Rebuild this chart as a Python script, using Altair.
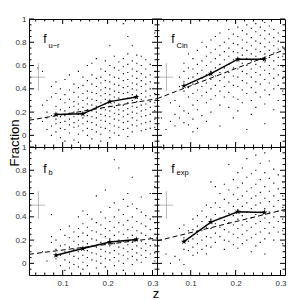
import altair as alt
import pandas as pd

FONT = "Liberation Sans"
W, H = 128, 128
X_DOMAIN = [0.025, 0.31]
Y_DOMAIN = [-0.1, 1.0]

X_MAJOR = [0.1, 0.2, 0.3]
X_MINOR = [0.04, 0.06, 0.08, 0.12, 0.14, 0.16, 0.18, 0.22, 0.24, 0.26, 0.28]
Y_MAJOR = [0, 0.2, 0.4, 0.6, 0.8, 1.0]
Y_MINOR = [-0.05, 0.05, 0.1, 0.15, 0.25, 0.3, 0.35, 0.45, 0.5, 0.55, 0.65, 0.7, 0.75, 0.85, 0.9, 0.95]

BIN_Z = [0.085, 0.145, 0.205, 0.264]
UR_BIN = [0.18, 0.185, 0.29, 0.33]
CIN_BIN = [0.425, 0.53, 0.655, 0.655]
B_BIN = [0.07, 0.127, 0.184, 0.206]
EXP_BIN = [0.187, 0.355, 0.443, 0.437]

FIT_Z = [0.025, 0.31]
UR_FIT = [0.13, 0.315]
CIN_FIT = [0.315, 0.737]
B_FIT = [0.078, 0.218]
EXP_FIT = [0.193, 0.463]

CROSS_Z = [0.031, 0.046, 0.061]
CROSS_F = [0.38, 0.5, 0.62]

UR_PTS = {
    0.045: [0.58],
    0.055: [0.55, 0.26, 0.12],
    0.065: [0.20, 0.15, 0.05, 0.30],
    0.075: [0.42, 0.33, 0.17, 0.08, 0.0],
    0.085: [0.46, 0.36, 0.25, 0.14, 0.10, 0.03],
    0.095: [0.40, 0.31, 0.22, 0.16, 0.11, 0.06, -0.02],
    0.105: [0.48, 0.35, 0.28, 0.21, 0.17, 0.12, 0.05, -0.05],
    0.115: [0.52, 0.39, 0.31, 0.24, 0.19, 0.14, 0.09, 0.02],
    0.125: [0.44, 0.37, 0.29, 0.25, 0.20, 0.16, 0.11, 0.07, -0.04],
    0.135: [0.55, 0.41, 0.33, 0.27, 0.22, 0.18, 0.13, 0.08, 0.01, -0.06],
    0.145: [0.50, 0.43, 0.36, 0.30, 0.24, 0.19, 0.15, 0.10, 0.04],
    0.155: [0.60, 0.47, 0.38, 0.32, 0.27, 0.22, 0.17, 0.12, 0.06, 0.0],
    0.165: [0.62, 0.52, 0.44, 0.37, 0.31, 0.26, 0.21, 0.16, 0.11, 0.05, -0.03],
    0.175: [0.66, 0.49, 0.42, 0.36, 0.30, 0.25, 0.20, 0.15, 0.09, 0.03],
    0.185: [0.57, 0.50, 0.45, 0.39, 0.34, 0.28, 0.23, 0.18, 0.13, 0.07, 0.01, -0.05],
    0.195: [0.64, 0.55, 0.47, 0.41, 0.36, 0.31, 0.27, 0.22, 0.17, 0.12, 0.06],
    0.205: [0.77, 0.60, 0.52, 0.46, 0.40, 0.35, 0.30, 0.25, 0.21, 0.16, 0.10, 0.04, -0.02],
    0.215: [0.68, 0.58, 0.50, 0.44, 0.38, 0.33, 0.28, 0.24, 0.19, 0.14, 0.08, 0.02],
    0.225: [0.63, 0.56, 0.49, 0.43, 0.37, 0.32, 0.27, 0.22, 0.18, 0.13, 0.07, 0.0],
    0.235: [0.96, 0.66, 0.59, 0.53, 0.47, 0.41, 0.36, 0.31, 0.26, 0.21, 0.16, 0.11, 0.05],
    0.245: [0.85, 0.70, 0.61, 0.54, 0.48, 0.42, 0.37, 0.32, 0.28, 0.23, 0.18, 0.12, 0.06, -0.01],
    0.255: [0.77, 0.64, 0.57, 0.51, 0.45, 0.40, 0.35, 0.30, 0.25, 0.20, 0.15, 0.09, 0.03],
    0.265: [0.69, 0.62, 0.55, 0.49, 0.44, 0.39, 0.34, 0.29, 0.24, 0.19, 0.13, 0.08],
    0.275: [0.68, 0.60, 0.53, 0.47, 0.42, 0.36, 0.31, 0.26, 0.21, 0.16, 0.10, 0.04],
    0.285: [0.65, 0.57, 0.50, 0.44, 0.38, 0.33, 0.27, 0.22, 0.17, 0.11, 0.05],
    0.295: [0.61, 0.52, 0.46, 0.40, 0.34, 0.29, 0.24, 0.18, 0.12, 0.06],
    0.305: [0.88, 0.55, 0.45, 0.36, 0.28, 0.21, 0.14, 0.07],
}

CIN_PTS = {
    0.035: [0.15],
    0.045: [0.05],
    0.055: [0.28, 0.12],
    0.065: [0.30, 0.18, 0.08],
    0.075: [0.50, 0.42, 0.25, 0.15],
    0.085: [0.62, 0.55, 0.46, 0.38, 0.21, 0.11],
    0.095: [0.70, 0.58, 0.49, 0.41, 0.33, 0.19, 0.09],
    0.105: [0.66, 0.57, 0.50, 0.44, 0.36, 0.26, 0.14, 0.03],
    0.115: [0.73, 0.61, 0.53, 0.46, 0.39, 0.30, 0.22, 0.06],
    0.125: [0.80, 0.64, 0.56, 0.49, 0.42, 0.34, 0.17],
    0.135: [0.76, 0.68, 0.60, 0.52, 0.45, 0.37, 0.28, 0.12],
    0.145: [0.82, 0.71, 0.63, 0.55, 0.48, 0.40, 0.31, 0.20],
    0.155: [0.85, 0.74, 0.66, 0.58, 0.51, 0.43, 0.34],
    0.165: [0.88, 0.77, 0.69, 0.61, 0.54, 0.47, 0.38, 0.26, 0.08],
    0.175: [0.80, 0.72, 0.65, 0.58, 0.50, 0.42, 0.33],
    0.185: [0.91, 0.83, 0.75, 0.68, 0.61, 0.54, 0.46, 0.37, 0.24],
    0.195: [0.87, 0.79, 0.72, 0.65, 0.58, 0.51, 0.43, 0.33, 0.15],
    0.205: [0.93, 0.85, 0.78, 0.71, 0.64, 0.57, 0.50, 0.42, 0.31, 0.21],
    0.215: [0.90, 0.82, 0.75, 0.69, 0.62, 0.55, 0.47, 0.39, 0.28],
    0.225: [0.95, 0.87, 0.80, 0.73, 0.66, 0.60, 0.53, 0.45, 0.36, 0.05],
    0.235: [0.92, 0.84, 0.77, 0.70, 0.64, 0.57, 0.50, 0.41, 0.30, 0.18],
    0.245: [0.96, 0.89, 0.81, 0.74, 0.68, 0.61, 0.54, 0.46, 0.37, 0.24],
    0.255: [0.93, 0.86, 0.79, 0.72, 0.66, 0.59, 0.52, 0.44, 0.33],
    0.265: [0.97, 0.90, 0.83, 0.76, 0.70, 0.63, 0.56, 0.48, 0.39, 0.27, 0.10],
    0.275: [0.94, 0.87, 0.80, 0.73, 0.67, 0.60, 0.53, 0.45, 0.35],
    0.285: [0.91, 0.84, 0.77, 0.71, 0.64, 0.57, 0.49, 0.40, 0.22],
    0.295: [0.88, 0.81, 0.74, 0.67, 0.60, 0.52, 0.43, 0.30],
    0.305: [0.85, 0.76, 0.68, 0.59, 0.49, 0.38, 0.15],
}

B_PTS = {
    0.055: [0.10],
    0.065: [0.02],
    0.075: [0.42, 0.23, 0.18],
    0.085: [0.20, 0.12, 0.04],
    0.095: [0.29, 0.15, 0.07, -0.02],
    0.105: [0.24, 0.16, 0.10, 0.03, -0.06],
    0.115: [0.32, 0.22, 0.14, 0.08, 0.01, -0.04],
    0.125: [0.27, 0.19, 0.12, 0.06, -0.01],
    0.135: [0.40, 0.30, 0.23, 0.16, 0.10, 0.04, -0.03],
    0.145: [0.45, 0.34, 0.26, 0.19, 0.13, 0.07, 0.01, -0.05],
    0.155: [0.42, 0.31, 0.24, 0.17, 0.11, 0.05, -0.02],
    0.165: [0.38, 0.28, 0.21, 0.15, 0.09, 0.03],
    0.175: [0.58, 0.35, 0.27, 0.20, 0.14, 0.08, 0.02, -0.04],
    0.185: [0.44, 0.33, 0.25, 0.18, 0.12, 0.06, 0.0],
    0.195: [0.63, 0.39, 0.30, 0.23, 0.16, 0.10, 0.04, -0.03],
    0.205: [0.48, 0.36, 0.28, 0.21, 0.15, 0.09, 0.03],
    0.215: [0.89, 0.52, 0.40, 0.31, 0.24, 0.17, 0.11, 0.05, -0.02],
    0.225: [0.82, 0.46, 0.35, 0.27, 0.20, 0.14, 0.08, 0.02],
    0.235: [0.55, 0.42, 0.33, 0.25, 0.19, 0.13, 0.07, 0.0, -0.06],
    0.245: [0.60, 0.49, 0.37, 0.29, 0.22, 0.16, 0.10, 0.04],
    0.255: [0.74, 0.51, 0.40, 0.31, 0.24, 0.18, 0.12, 0.06, -0.01],
    0.265: [0.47, 0.36, 0.28, 0.21, 0.15, 0.09, 0.03],
    0.275: [0.57, 0.44, 0.34, 0.26, 0.19, 0.13, 0.07, 0.01],
    0.285: [0.41, 0.32, 0.24, 0.17, 0.11, 0.05],
    0.295: [0.60, 0.38, 0.29, 0.22, 0.15, 0.08],
    0.305: [0.66, 0.35, 0.25, 0.16, 0.09, 0.02],
}

EXP_PTS = {
    0.045: [0.08],
    0.055: [0.0],
    0.065: [0.06],
    0.075: [0.30, 0.03],
    0.085: [0.33, 0.22, 0.12, -0.01],
    0.095: [0.28, 0.19, 0.11],
    0.105: [0.38, 0.29, 0.21, 0.14, 0.07],
    0.115: [0.41, 0.32, 0.25, 0.17, 0.09],
    0.125: [0.45, 0.36, 0.28, 0.20, 0.12],
    0.135: [0.50, 0.40, 0.31, 0.23, 0.15, 0.08],
    0.145: [0.70, 0.48, 0.38, 0.30, 0.22, 0.14],
    0.155: [0.66, 0.52, 0.42, 0.34, 0.26, 0.18],
    0.165: [0.60, 0.48, 0.39, 0.31, 0.23],
    0.175: [0.68, 0.55, 0.45, 0.37, 0.29, 0.20, 0.12],
    0.185: [0.85, 0.63, 0.52, 0.43, 0.35, 0.27, 0.19],
    0.195: [0.72, 0.59, 0.49, 0.41, 0.33, 0.25, 0.16],
    0.205: [0.78, 0.65, 0.55, 0.46, 0.38, 0.30, 0.22, 0.13],
    0.215: [0.82, 0.69, 0.58, 0.49, 0.41, 0.33, 0.25, 0.17],
    0.225: [0.90, 0.74, 0.62, 0.52, 0.44, 0.36, 0.28, 0.20],
    0.235: [0.77, 0.65, 0.56, 0.47, 0.39, 0.31, 0.22, 0.10],
    0.245: [0.93, 0.80, 0.68, 0.58, 0.50, 0.42, 0.34, 0.25, 0.15],
    0.255: [0.86, 0.72, 0.61, 0.52, 0.44, 0.36, 0.27, 0.18],
    0.265: [0.95, 0.78, 0.66, 0.56, 0.47, 0.39, 0.30, 0.21, 0.08],
    0.275: [0.88, 0.73, 0.62, 0.53, 0.44, 0.35, 0.26],
    0.285: [0.81, 0.69, 0.58, 0.49, 0.40, 0.31, 0.20],
    0.295: [0.76, 0.64, 0.54, 0.45, 0.36, 0.27],
    0.305: [0.70, 0.58, 0.48, 0.38, 0.28, 0.17],
}

STAR = ("M0,-1L0.224,-0.309L0.951,-0.309L0.363,0.118L0.588,0.809L0,0.382"
        "L-0.588,0.809L-0.363,0.118L-0.951,-0.309L-0.224,-0.309Z")


def panel(pts, bin_y, fit_y, sub, show_x, show_y, lab_y, sub_y, extra=()):
    xs = alt.Scale(domain=X_DOMAIN, nice=False, zero=False)
    ys = alt.Scale(domain=Y_DOMAIN, nice=False, zero=False)
    xaxis = alt.Axis(values=X_MAJOR, format="~g", ticks=False, domain=False, grid=False,
                     labelPadding=4, labelFont=FONT, labelFontSize=8, labelColor="#333",
                     title=None) if show_x else None
    yaxis = alt.Axis(values=Y_MAJOR, format="~g", ticks=False, domain=False, grid=False,
                     labelPadding=3, labelFont=FONT, labelFontSize=8, labelColor="#333",
                     title=None) if show_y else None
    X = alt.X("z:Q", scale=xs, axis=xaxis)
    Y = alt.Y("f:Q", scale=ys, axis=yaxis)

    df = pd.DataFrame([(x, y) for x, yl in pts.items() for y in yl], columns=["z", "f"])
    layers = [
        alt.Chart(df).mark_square(size=1.3, color="black", opacity=1, clip=True).encode(x=X, y=Y)
    ]
    cross_v = pd.DataFrame({"z": [CROSS_Z[1]], "f": [CROSS_F[0]], "f2": [CROSS_F[2]]})
    cross_h = pd.DataFrame({"z": [CROSS_Z[0]], "z2": [CROSS_Z[2]], "f": [CROSS_F[1]]})
    layers.append(alt.Chart(cross_v).mark_rule(color="#b8b8b8", strokeWidth=1).encode(x=X, y=Y, y2="f2"))
    layers.append(alt.Chart(cross_h).mark_rule(color="#b8b8b8", strokeWidth=1).encode(x=X, x2="z2", y=Y))
    fit = pd.DataFrame({"z": FIT_Z, "f": fit_y})
    layers.append(alt.Chart(fit).mark_line(color="black", strokeWidth=1, strokeDash=[5, 3], clip=True).encode(x=X, y=Y))
    bins = pd.DataFrame({"z": BIN_Z, "f": bin_y})
    layers.append(alt.Chart(bins).mark_line(color="black", strokeWidth=1.5).encode(x=X, y=Y))
    layers.append(alt.Chart(bins).mark_point(shape=STAR, size=40, filled=True, color="black", opacity=1).encode(x=X, y=Y))
    for vals, ln in ((X_MAJOR, 5), (X_MINOR, 2.5)):
        tdf = pd.DataFrame({"z": vals})
        layers.append(alt.Chart(tdf).mark_rule(color="black", strokeWidth=1).encode(x=X, y=alt.value(H), y2=alt.value(H - ln)))
        layers.append(alt.Chart(tdf).mark_rule(color="black", strokeWidth=1).encode(x=X, y=alt.value(0), y2=alt.value(ln)))
    for vals, ln in ((Y_MAJOR, 5), (Y_MINOR, 2.5)):
        tdf = pd.DataFrame({"f": vals})
        layers.append(alt.Chart(tdf).mark_rule(color="black", strokeWidth=1).encode(y=Y, x=alt.value(0), x2=alt.value(ln)))
        layers.append(alt.Chart(tdf).mark_rule(color="black", strokeWidth=1).encode(y=Y, x=alt.value(W), x2=alt.value(W - ln)))
    lab = pd.DataFrame({"t": ["f"], "s": [sub]})
    layers.append(alt.Chart(lab).mark_text(font=FONT, fontSize=12, align="center", baseline="alphabetic", color="black")
                  .encode(x=alt.value(16), y=alt.value(lab_y), text="t:N"))
    layers.append(alt.Chart(lab).mark_text(font=FONT, fontSize=7.5, align="left", baseline="alphabetic", color="black")
                  .encode(x=alt.value(19.5), y=alt.value(sub_y), text="s:N"))
    layers.extend(extra)
    return alt.layer(*layers).properties(width=W, height=H)


frac = alt.Chart(pd.DataFrame({"t": ["Fraction"]})).mark_text(
    font=FONT, fontSize=13, angle=270, align="center", baseline="alphabetic", color="black"
).encode(text="t", x=alt.value(-10.5), y=alt.value(124))

zlab = alt.Chart(pd.DataFrame({"t": ["z"]})).mark_text(
    font=FONT, fontSize=13, align="center", baseline="alphabetic", color="black"
).encode(text="t", x=alt.value(W - 1), y=alt.value(H + 23))

tl = panel(UR_PTS, UR_BIN, UR_FIT, "u\u2212r", False, True, 23.5, 28.7, extra=(frac,))
tr = panel(CIN_PTS, CIN_BIN, CIN_FIT, "Cin", False, False, 23.5, 28.7)
bl = panel(B_PTS, B_BIN, B_FIT, "b", True, True, 25.5, 28, extra=(zlab,))
br = panel(EXP_PTS, EXP_BIN, EXP_FIT, "exp", True, False, 25.5, 28)

chart = alt.concat(tl, tr, bl, br, columns=2, spacing=0, bounds="flush").configure_view(
    stroke="black", strokeWidth=1
).properties(padding={"left": 0, "top": 6, "right": 5, "bottom": 0}, background="white")

chart.save("out.html", embed_options={"renderer": "svg", "actions": False})
